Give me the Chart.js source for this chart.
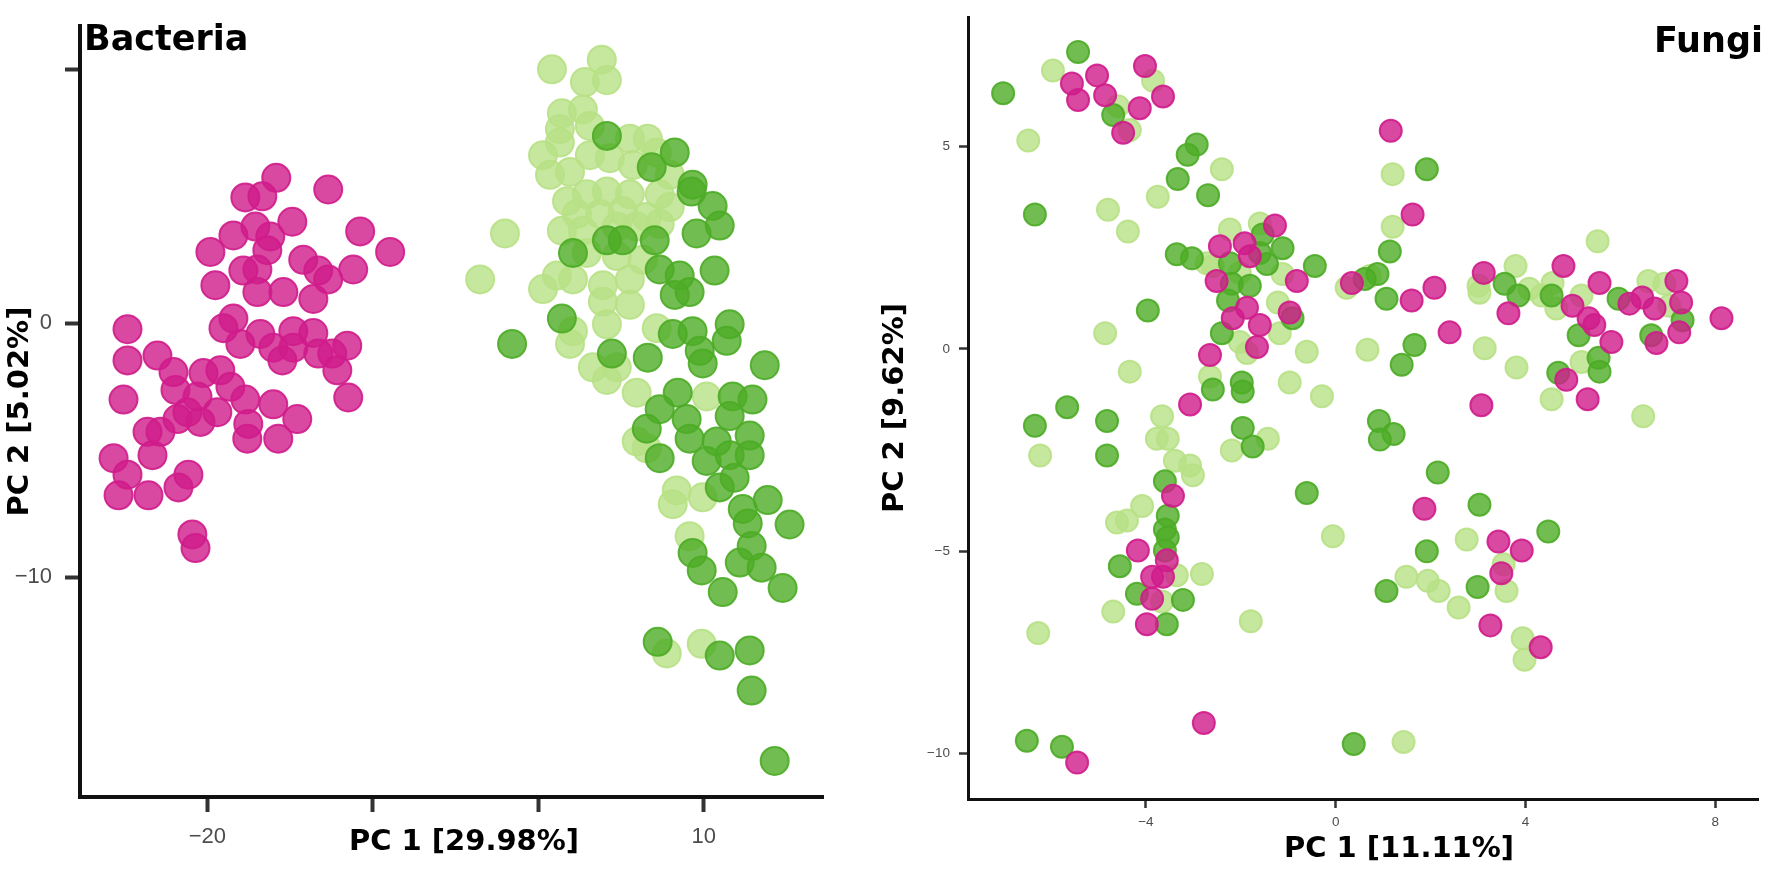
<!DOCTYPE html>
<html lang="en">
<head>
    <meta charset="UTF-8">
    <title>PCA Bacteria / Fungi</title>
    <script src="https://cdn.jsdelivr.net/npm/chart.js"></script>
    <style>
        html, body { margin: 0; padding: 0; background: #fff; }
        .panel { position: absolute; top: 0; height: 870px; }
        #bacBox { left: 0; width: 860px; }
        #funBox { left: 860px; width: 912px; }
    </style>
</head>
<body>
    <div class="panel" id="bacBox"><canvas id="bacChart"></canvas></div>
    <div class="panel" id="funBox"><canvas id="funChart"></canvas></div>

    <script>
        // ---- Bacteria PCA (PC1 vs PC2) ----
        const bacPink = [
            [-15.84,5.73],[-17.71,4.96],[-16.68,5.0],[-12.70,5.27],[-14.87,4.0],[-17.10,3.81],[-18.43,3.46],[-16.20,3.42],
            [-10.77,3.62],[-8.96,2.81],[-19.82,2.81],[-16.38,2.88],[-14.21,2.5],[-13.30,2.08],[-11.19,2.12],[-17.83,2.08],
            [-16.98,2.12],[-19.52,1.5],[-15.41,1.23],[-16.98,1.23],[-13.60,0.96],[-12.70,1.73],[-18.43,0.19],[-19.03,-0.19],
            [-24.83,-0.23],[-16.80,-0.42],[-14.81,-0.31],[-13.60,-0.38],[-18.01,-0.81],[-16.02,-0.96],[-14.81,-0.96],
            [-13.30,-1.19],[-12.46,-1.19],[-11.55,-0.88],[-15.47,-1.46],[-12.15,-1.85],[-24.83,-1.46],[-23.02,-1.27],
            [-22.05,-1.92],[-20.24,-1.96],[-19.22,-1.85],[-18.61,-2.5],[-11.49,-2.92],[-25.07,-3.0],[-21.93,-2.62],
            [-20.60,-2.88],[-17.71,-3.0],[-16.02,-3.19],[-19.40,-3.5],[-21.21,-3.5],[-20.42,-3.88],[-21.81,-3.77],
            [-14.57,-3.77],[-17.53,-3.96],[-23.62,-4.27],[-22.84,-4.27],[-17.59,-4.54],[-15.72,-4.54],[-25.67,-5.31],
            [-24.83,-5.96],[-23.32,-5.19],[-21.15,-5.96],[-21.75,-6.46],[-25.37,-6.77],[-23.56,-6.77],[-20.91,-8.31],
            [-20.72,-8.85]
        ];
        const bacLight = [
            [0.82,10.0],[3.83,10.38],[2.81,9.5],[4.14,9.58],[1.42,8.27],[2.69,8.42],[1.30,7.65],[3.11,7.77],[0.28,6.62],
            [1.30,7.12],[5.53,7.27],[6.61,7.27],[7.15,6.73],[0.70,5.85],[1.91,5.96],[3.11,6.62],[4.32,6.5],[5.71,6.23],
            [7.94,5.85],[1.73,4.81],[2.93,5.08],[4.14,5.19],[5.53,5.08],[7.33,5.08],[2.33,4.31],[3.72,4.31],[5.10,4.42],
            [6.55,4.19],[7.94,4.58],[1.42,3.65],[2.69,3.65],[4.74,3.81],[5.94,3.81],[7.33,3.92],[-2.02,3.54],[-3.52,1.73],
            [0.28,1.35],[1.12,1.88],[2.09,1.73],[3.90,1.5],[5.53,1.73],[2.93,2.77],[4.74,2.65],[6.31,2.5],[3.90,0.85],
            [5.53,0.73],[2.09,-0.31],[4.14,-0.04],[7.15,-0.19],[1.91,-0.81],[3.29,-1.73],[4.74,-1.73],[5.94,-2.73],
            [4.14,-2.23],[5.94,-4.65],[10.17,-2.88],[6.55,-4.92],[8.36,-6.58],[8.12,-7.12],[9.93,-6.85],[9.14,-8.38],
            [7.76,-13.0],[9.87,-12.62]
        ];
        const bacDark = [
            [4.14,7.38],[8.24,6.73],[6.85,6.15],[9.32,5.46],[10.53,4.62],[10.96,3.85],[9.26,5.19],[4.14,3.27],[5.10,3.27],
            [7.03,3.27],[9.56,3.54],[2.09,2.77],[7.33,2.12],[8.54,1.88],[10.65,2.08],[9.14,1.23],[8.24,1.12],[1.42,0.19],
            [-1.59,-0.81],[11.56,-0.04],[9.32,-0.31],[8.12,-0.42],[9.75,-1.08],[11.38,-0.69],[4.44,-1.19],[6.61,-1.35],
            [13.68,-1.65],[9.93,-1.58],[8.42,-2.73],[7.33,-3.38],[8.96,-3.77],[11.74,-2.88],[12.94,-3.0],[11.56,-3.65],
            [12.77,-4.42],[6.55,-4.15],[10.78,-4.65],[7.33,-5.31],[9.14,-4.54],[10.17,-5.42],[11.56,-5.19],[12.77,-5.19],
            [10.96,-6.46],[11.86,-6.08],[13.86,-6.96],[12.35,-7.31],[12.65,-7.88],[15.18,-7.92],[12.89,-8.77],[9.32,-9.04],
            [9.87,-9.73],[12.17,-9.42],[13.49,-9.62],[11.14,-10.58],[14.76,-10.42],[7.21,-12.54],[10.96,-13.08],
            [12.77,-12.88],[12.89,-14.46],[14.28,-17.23]
        ];
        const bacXTicks = [-20, -10, 0, 10];
        const bacXLabels = ['\u221220', '', '', '10'];
        const bacYTicks = [-10, 0, 10];
        const bacYLabels = ['\u221210', '0', ''];

        // ---- Fungi PCA (PC1 vs PC2) ----
        const funPink = [
            [-5.56,6.56],[-5.03,6.76],[-5.43,6.15],[-4.86,6.27],[-4.02,6.99],[-3.64,6.24],[-4.13,5.95],[-4.48,5.34],
            [-2.65,-0.15],[-3.07,-1.37],[-1.28,3.05],[-2.44,2.54],[-1.92,2.61],[-1.81,2.29],[-0.82,1.68],[-2.51,1.68],
            [-1.87,1.02],[-0.97,0.90],[-2.17,0.76],[-1.60,0.59],[-1.66,0.05],[1.62,3.32],[1.16,5.39],[0.34,1.63],
            [1.60,1.20],[2.08,1.51],[2.40,0.41],[3.07,-1.39],[5.31,-1.24],[4.80,2.05],[3.12,1.88],[5.56,1.63],[3.64,0.88],
            [5.33,0.76],[4.99,1.07],[5.45,0.59],[5.81,0.17],[4.86,-0.76],[6.19,1.12],[6.46,1.27],[6.72,1.00],[7.18,1.68],
            [7.28,1.15],[7.24,0.41],[6.76,0.15],[8.13,0.76],[-3.43,-3.63],[-4.17,-4.98],[-3.56,-5.22],[-3.87,-5.63],
            [-3.64,-5.63],[-3.87,-6.17],[-3.98,-6.80],[-5.45,-10.22],[-2.78,-9.24],[1.87,-3.95],[3.43,-4.76],[3.92,-4.98],
            [3.49,-5.54],[3.26,-6.83],[4.32,-7.37]
        ];
        const funLight = [
            [-5.96,6.88],[-3.85,6.63],[-4.59,6.0],[-4.34,5.41],[-6.48,5.15],[-2.40,4.44],[-3.75,3.76],[-4.80,3.44],
            [-4.38,2.90],[-2.72,2.12],[-4.86,0.39],[-4.34,-0.56],[-2.65,-0.68],[-0.97,-0.83],[-3.66,-1.66],[-0.61,-0.07],
            [-2.23,2.95],[-1.60,3.10],[-1.12,1.85],[-2.59,2.05],[-2.02,1.88],[-1.22,1.15],[-2.02,0.17],[-1.18,0.39],
            [-1.87,-0.10],[-0.29,-1.17],[0.67,-0.02],[1.20,3.02],[0.23,1.51],[0.72,1.80],[1.20,4.32],[3.14,0.02],
            [3.81,-0.46],[6.48,-1.66],[4.55,-1.24],[5.52,2.66],[3.79,2.05],[3.01,1.56],[3.03,1.39],[4.34,1.32],[4.57,1.63],
            [4.65,1.0],[4.08,1.49],[5.18,1.32],[5.18,-0.32],[6.59,1.68],[6.93,1.61],[7.03,1.07],[-3.77,-2.22],[-3.54,-2.22],
            [-3.39,-2.76],[-3.07,-2.88],[-3.01,-3.12],[-4.08,-3.88],[-4.61,-4.29],[-4.40,-4.24],[-3.35,-5.59],[-2.82,-5.56],
            [-3.66,-6.24],[-4.69,-6.49],[-1.79,-6.73],[-6.27,-7.02],[-6.23,-2.63],[-1.43,-2.22],[-2.19,-2.51],[-0.06,-4.63],
            [2.76,-4.71],[3.54,-5.32],[1.49,-5.63],[1.94,-5.73],[2.17,-5.98],[3.60,-5.98],[2.59,-6.39],[3.94,-7.15],
            [3.98,-7.68],[1.43,-9.71]
        ];
        const funDark = [
            [-7.01,6.32],[-5.43,7.34],[-4.69,5.78],[-2.93,5.05],[-3.12,4.80],[-3.33,4.20],[-2.69,3.80],[-6.34,3.32],
            [-3.35,2.34],[-3.03,2.24],[-3.96,0.95],[-2.59,-1.0],[-1.98,-0.83],[-1.96,-1.05],[-5.66,-1.44],[-6.34,-1.90],
            [-4.82,-1.78],[-0.44,2.05],[-1.54,2.83],[-2.23,2.12],[-1.60,2.37],[-1.12,2.49],[-1.45,2.10],[-2.19,1.61],
            [-1.81,1.56],[-2.27,1.20],[-0.91,0.76],[-2.40,0.39],[1.66,0.10],[1.39,-0.39],[1.14,2.41],[0.88,1.85],
            [0.61,1.73],[1.07,1.24],[1.92,4.44],[0.91,-1.78],[1.22,-2.10],[0.93,-2.24],[3.56,1.61],[3.85,1.32],[4.55,1.32],
            [5.12,0.34],[5.54,-0.22],[5.56,-0.56],[4.69,-0.59],[5.96,1.24],[6.65,0.34],[7.31,0.71],[-3.60,-3.27],
            [-3.54,-4.12],[-3.60,-4.46],[-3.54,-4.66],[-3.60,-4.98],[-4.55,-5.37],[-4.19,-6.05],[-3.22,-6.20],[-3.56,-6.80],
            [-4.82,-2.63],[-0.61,-3.56],[-1.96,-1.95],[-1.75,-2.41],[2.15,-3.05],[3.03,-3.85],[4.48,-4.51],[1.92,-5.0],
            [2.99,-5.88],[1.07,-5.98],[-6.51,-9.68],[-5.77,-9.83],[0.38,-9.76]
        ];
        const funXTicks = [-4, 0, 4, 8];
        const funXLabels = ['\u22124', '0', '4', '8'];
        const funYTicks = [-10, -5, 0, 5];
        const funYLabels = ['\u221210', '\u22125', '0', '5'];

        const PINK = '208,28,139';
        const LIGHT = '184,225,134';
        const DARK = '77,172,38';

        const toPts = arr => arr.map(p => ({ x: p[0], y: p[1] }));

        function series(arr, rgb, r) {
            return {
                data: toPts(arr),
                backgroundColor: 'rgba(' + rgb + ',0.8)',
                borderColor: 'rgba(' + rgb + ',0.9)',
                borderWidth: 2,
                pointRadius: r,
                pointHoverRadius: r,
                clip: false
            };
        }

        // panel name and the PC 1 title (the PC 1 title sits a bit right of the plot centre)
        const labels = {
            id: 'labels',
            afterDraw(chart, args, opts) {
                const ctx = chart.ctx;
                ctx.save();
                ctx.fillStyle = '#000';
                ctx.textBaseline = 'alphabetic';
                opts.items.forEach(t => {
                    ctx.font = 'bold ' + t.size + 'px "DejaVu Sans"';
                    ctx.textAlign = t.align;
                    ctx.fillText(t.text, t.x, t.y);
                });
                ctx.restore();
            }
        };

        function axis(cfg) {
            return {
                type: 'linear',
                min: cfg.min,
                max: cfg.max,
                afterBuildTicks: s => { s.ticks = cfg.ticks.map(v => ({ value: v })); },
                afterFit: s => { if (cfg.height) s.height = cfg.height; if (cfg.width) s.width = cfg.width; },
                ticks: {
                    callback: (v, i) => cfg.labels[i],
                    color: '#4d4d4d',
                    padding: cfg.tickPad,
                    maxRotation: 0,
                    autoSkip: false,
                    font: { family: 'Liberation Sans', size: cfg.tickSize }
                },
                grid: {
                    drawOnChartArea: false,
                    drawTicks: true,
                    tickLength: cfg.tickLen,
                    tickWidth: cfg.tickW,
                    tickColor: '#333'
                },
                border: { display: true, color: '#111', width: cfg.lineW },
                title: {
                    display: !!cfg.title,
                    text: cfg.title || '',
                    color: '#000',
                    font: { family: 'DejaVu Sans', size: 29, weight: 'bold' },
                    padding: cfg.titlePad
                }
            };
        }

        const common = {
            responsive: true,
            maintainAspectRatio: false,
            animation: false,
            events: []
        };

        new Chart(document.getElementById('bacChart'), {
            type: 'scatter',
            data: {
                datasets: [
                    series(bacPink, PINK, 14),
                    series(bacDark, DARK, 14),
                    series(bacLight, LIGHT, 14)
                ]
            },
            options: Object.assign({}, common, {
                layout: { padding: { left: 0, right: 37, top: 8, bottom: 0 } },
                plugins: {
                    legend: { display: false },
                    tooltip: { enabled: false },
                    labels: { items: [
                        { text: 'Bacteria', x: 84, y: 50, align: 'left', size: 35 },
                        { text: 'PC 1 [29.98%]', x: 464, y: 850, align: 'center', size: 29 }
                    ] }
                },
                scales: {
                    x: axis({ min: -27.7, max: 17.2, ticks: bacXTicks, labels: bacXLabels, height: 73,
                        tickPad: 12, tickSize: 22, tickLen: 15, tickW: 4, lineW: 4 }),
                    y: axis({ min: -18.65, max: 11.7, ticks: bacYTicks, labels: bacYLabels, width: 80,
                        tickPad: 13, tickSize: 22, tickLen: 15, tickW: 4, lineW: 4,
                        title: 'PC 2 [5.02%]', titlePad: { top: 3, bottom: 0 } })
                }
            }),
            plugins: [labels]
        });

        new Chart(document.getElementById('funChart'), {
            type: 'scatter',
            data: {
                datasets: [
                    series(funPink, PINK, 11),
                    series(funDark, DARK, 11),
                    series(funLight, LIGHT, 11)
                ]
            },
            options: Object.assign({}, common, {
                layout: { padding: { left: 0, right: 14, top: 8, bottom: 0 } },
                plugins: {
                    legend: { display: false },
                    tooltip: { enabled: false },
                    labels: { items: [
                        { text: 'Fungi', x: 903, y: 52, align: 'right', size: 35 },
                        { text: 'PC 1 [11.11%]', x: 539, y: 857, align: 'center', size: 29 }
                    ] }
                },
                scales: {
                    x: axis({ min: -7.75, max: 8.9, ticks: funXTicks, labels: funXLabels, height: 71,
                        tickPad: 6, tickSize: 13.5, tickLen: 9, tickW: 2.5, lineW: 3 }),
                    y: axis({ min: -11.12, max: 8.2, ticks: funYTicks, labels: funYLabels, width: 108,
                        tickPad: 9, tickSize: 13.5, tickLen: 9, tickW: 2.5, lineW: 3,
                        title: 'PC 2 [9.62%]', titlePad: { top: 18, bottom: 0 } })
                }
            }),
            plugins: [labels]
        });
    </script>
</body>
</html>
